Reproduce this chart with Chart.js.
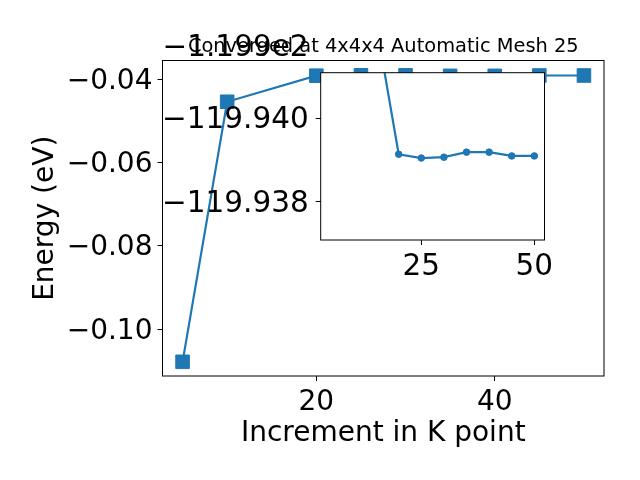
<!DOCTYPE html>
<html lang="en">
<head>
<meta charset="UTF-8">
<title>K point convergence</title>
<script src="https://cdn.jsdelivr.net/npm/chart.js"></script>
<style>
  body { margin: 0; background: #fff; }
  #wrap { position: relative; width: 640px; height: 480px; }
  #wrap canvas { position: absolute; left: 0; top: 0; }
</style>
</head>
<body>
<div id="wrap">
  <canvas id="mainChart" width="640" height="480"></canvas>
  <canvas id="insetChart" width="640" height="480"></canvas>
</div>
<script>
// k-point increments and total energies (eV)
const kPoints = [5, 10, 20, 25, 30, 35, 40, 45, 50];
const energies = [-120.0078, -119.9454, -119.93914, -119.93905, -119.93907, -119.93919, -119.93919, -119.93910, -119.93910];
const energyOffset = -119.9;   // printed as -1.199e2 over the main axis
const mainXTicks = [20, 40];
const mainYTicks = [-0.10, -0.08, -0.06, -0.04];
const insetXTicks = [25, 50];
const insetYTicks = [-119.940, -119.938];

const titleText = 'Converged at 4x4x4 Automatic Mesh 25';
const blue = '#1f77b4';

Chart.defaults.font.family = "'DejaVu Sans', sans-serif";
Chart.defaults.color = '#000';

function minus(s) { return s.replace('-', '\u2212'); }
function setTicks(list) {
    return scale => { scale.ticks = list.map(v => ({ value: v })); };
}
const tickGrid = { drawOnChartArea: false, drawTicks: true, tickLength: 5, color: '#000', lineWidth: 1 };

// white background, axes box, title and offset text
const mainDecor = {
    id: 'mainDecor',
    beforeDraw(chart) {
        const ctx = chart.ctx;
        ctx.save();
        ctx.fillStyle = '#fff';
        ctx.fillRect(0, 0, chart.width, chart.height);
        ctx.restore();
    },
    afterDatasetsDraw(chart) {
        const { ctx, chartArea: a } = chart;
        ctx.save();
        ctx.strokeStyle = '#000';
        ctx.lineWidth = 1;
        ctx.strokeRect(a.left, a.top, a.right - a.left, a.bottom - a.top);
        ctx.restore();
    },
    afterDraw(chart) {
        const { ctx, chartArea: a } = chart;
        ctx.save();
        ctx.fillStyle = '#000';
        ctx.textBaseline = 'alphabetic';
        ctx.font = "19.4px 'DejaVu Sans'";
        ctx.textAlign = 'center';
        ctx.fillText(titleText, (a.left + a.right) / 2, a.top - 8.8);
        ctx.font = "29.5px 'DejaVu Sans'";
        ctx.textAlign = 'left';
        ctx.fillText(minus(energyOffset.toExponential(3).replace('e+', 'e')), a.left, 55.7);
        ctx.restore();
    }
};

const insetDecor = {
    id: 'insetDecor',
    beforeDraw(chart) {
        const { ctx, chartArea: a } = chart;
        ctx.save();
        ctx.fillStyle = '#fff';
        ctx.fillRect(a.left, a.top, a.right - a.left, a.bottom - a.top);
        ctx.restore();
    },
    afterDatasetsDraw(chart) {
        const { ctx, chartArea: a } = chart;
        ctx.save();
        ctx.strokeStyle = '#000';
        ctx.lineWidth = 1;
        ctx.strokeRect(a.left, a.top, a.right - a.left, a.bottom - a.top);
        ctx.restore();
    }
};

new Chart(document.getElementById('mainChart'), {
    type: 'line',
    data: {
        datasets: [{
            data: kPoints.map((k, i) => ({ x: k, y: energies[i] - energyOffset })),
            borderColor: blue,
            backgroundColor: blue,
            borderWidth: 2.2,
            pointStyle: 'rect',
            pointRadius: 9.6,
            pointHoverRadius: 9.6,
            pointBorderWidth: 1
        }]
    },
    options: {
        responsive: false,
        animation: false,
        events: [],
        layout: { padding: { top: 60.5, right: 36, bottom: 0, left: 0 } },
        plugins: { legend: { display: false }, tooltip: { enabled: false } },
        scales: {
            x: {
                type: 'linear', min: 2.75, max: 52.25,
                afterBuildTicks: setTicks(mainXTicks),
                afterFit: s => { s.height = 104; },
                grid: tickGrid,
                border: { display: false },
                ticks: { font: { size: 28 }, padding: 5, maxRotation: 0, callback: v => String(v) },
                title: { display: true, text: 'Increment in K point', font: { size: 28 }, padding: { top: 0, bottom: 29.5 } }
            },
            y: {
                type: 'linear', min: -0.1112, max: -0.0355,
                afterBuildTicks: setTicks(mainYTicks),
                afterFit: s => { s.width = 162.5; },
                grid: tickGrid,
                border: { display: false },
                ticks: { font: { size: 28 }, padding: 5, labelOffset: 2, callback: v => minus(v.toFixed(2)) },
                title: { display: true, text: 'Energy (eV)', font: { size: 28 }, padding: { top: 29.2, bottom: 0 } }
            }
        }
    },
    plugins: [mainDecor]
});

new Chart(document.getElementById('insetChart'), {
    type: 'line',
    data: {
        datasets: [{
            data: kPoints.map((k, i) => ({ x: k, y: energies[i] })),
            borderColor: blue,
            backgroundColor: blue,
            borderWidth: 2.2,
            pointStyle: 'circle',
            pointRadius: 3.3,
            pointHoverRadius: 3.3,
            pointBorderWidth: 1
        }]
    },
    options: {
        responsive: false,
        animation: false,
        events: [],
        layout: { padding: { top: 72.7, right: 95.5, bottom: 0, left: 0 } },
        plugins: { legend: { display: false }, tooltip: { enabled: false } },
        scales: {
            x: {
                type: 'linear', min: 2.75, max: 52.25,
                afterBuildTicks: setTicks(insetXTicks),
                afterFit: s => { s.height = 240; },
                grid: tickGrid,
                border: { display: false },
                ticks: { font: { size: 29.5 }, padding: 5, maxRotation: 0, callback: v => String(v) }
            },
            y: {
                type: 'linear', reverse: true, min: -119.94109, max: -119.93709,
                afterBuildTicks: setTicks(insetYTicks),
                afterFit: s => { s.width = 320.7; },
                grid: tickGrid,
                border: { display: false },
                ticks: { font: { size: 29.5 }, padding: 7, labelOffset: 2, callback: v => minus(v.toFixed(3)) }
            }
        }
    },
    plugins: [insetDecor]
});
</script>
</body>
</html>
